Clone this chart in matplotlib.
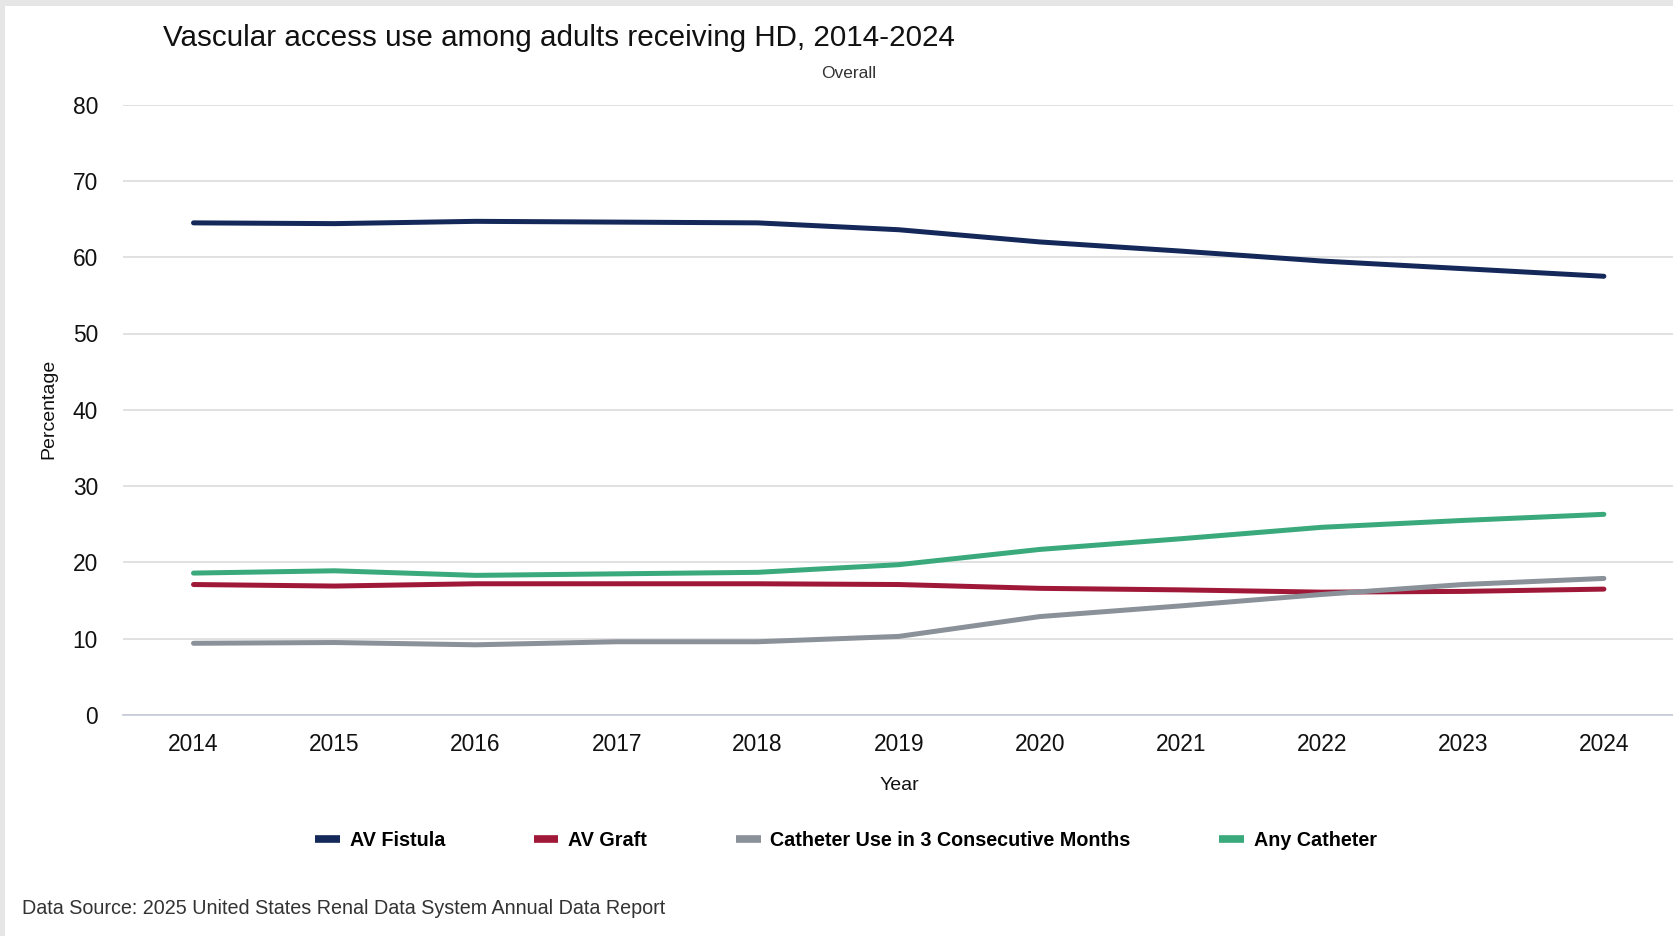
import matplotlib
matplotlib.use("Agg")
import matplotlib.pyplot as plt
from matplotlib.patches import Rectangle

plt.rcParams['font.family'] = ['Liberation Sans', 'DejaVu Sans']

years = [2014, 2015, 2016, 2017, 2018, 2019, 2020, 2021, 2022, 2023, 2024]
av_fistula = [64.5, 64.4, 64.7, 64.6, 64.5, 63.6, 62.0, 60.8, 59.5, 58.5, 57.5]
av_graft = [17.1, 16.9, 17.2, 17.2, 17.2, 17.1, 16.6, 16.4, 16.1, 16.2, 16.5]
cath_3mo = [9.4, 9.5, 9.2, 9.6, 9.6, 10.3, 12.9, 14.3, 15.8, 17.1, 17.9]
any_cath = [18.6, 18.9, 18.3, 18.5, 18.7, 19.7, 21.7, 23.1, 24.6, 25.5, 26.3]

series_names = ["AV Fistula", "AV Graft", "Catheter Use in 3 Consecutive Months", "Any Catheter"]
series_values = [av_fistula, av_graft, cath_3mo, any_cath]
colors = ["#14295a", "#a01838", "#8b9199", "#3aa97b"]
yticks = [0, 10, 20, 30, 40, 50, 60, 70, 80]

W, H = 1673, 936
fig = plt.figure(figsize=(W / 100, H / 100), dpi=100)
fig.patch.set_facecolor("white")

# grey frame strips (top and left)
fig.patches.append(Rectangle((0, 1 - 6 / H), 1, 6 / H, transform=fig.transFigure,
                             facecolor="#e6e6e6", edgecolor="none", zorder=0))
fig.patches.append(Rectangle((0, 0), 5 / W, 1, transform=fig.transFigure,
                             facecolor="#e6e6e6", edgecolor="none", zorder=0))

left, right = 123 / W, 1.0
bottom, top = 1 - 715 / H, 1 - 104.6 / H
ax = fig.add_axes([left, bottom, right - left, top - bottom])

handles = []
for name, vals, c in zip(series_names, series_values, colors):
    h, = ax.plot(years, vals, color=c, lw=3.6, solid_capstyle="round",
                 solid_joinstyle="round", label=name, zorder=3)
    handles.append(h)

ax.set_xlim(2013.5, 2024.49)
ax.set_ylim(0, 80)
ax.set_yticks(yticks)
ax.set_xticks(years)
ax.set_xticklabels([str(y) for y in years])
ax.grid(axis="y", color="#dcdcdc", lw=1.2)
ax.set_axisbelow(True)
for s in ["top", "right", "left"]:
    ax.spines[s].set_visible(False)
ax.spines["bottom"].set_color("#c4cad8")
ax.spines["bottom"].set_linewidth(1.2)
ax.tick_params(axis="both", length=0, labelsize=16.4, colors="#111111")
ax.tick_params(axis="y", pad=18)
ax.tick_params(axis="x", pad=13)

fig.text(49 / W, 1 - 409 / H, "Percentage", rotation=90, ha="center", va="center",
         fontsize=14, color="#111111")
fig.text(899 / W, 1 - 785 / H, "Year", ha="center", va="center", fontsize=14, color="#111111")

fig.text(163 / W, 1 - 38 / H, "Vascular access use among adults receiving HD, 2014-2024",
         ha="left", va="center", fontsize=21.3, color="#111111")
fig.text(849 / W, 1 - 73 / H, "Overall", ha="center", va="center", fontsize=12.5, color="#333333")

leg = fig.legend(handles=handles, labels=series_names, loc="center", ncol=4,
                 bbox_to_anchor=(846 / W, 1 - 840 / H), frameon=False,
                 prop={"weight": "bold", "size": 14.2}, handlelength=1.25,
                 handletextpad=0.5, columnspacing=4.5)
for lh in leg.legend_handles:
    lh.set_linewidth(5.5)
    lh.set_solid_capstyle("butt")

fig.text(22 / W, 1 - 909 / H, "Data Source: 2025 United States Renal Data System Annual Data Report",
         ha="left", va="center", fontsize=14.2, color="#333333")

fig.savefig("out.png", dpi=100, facecolor="white")
